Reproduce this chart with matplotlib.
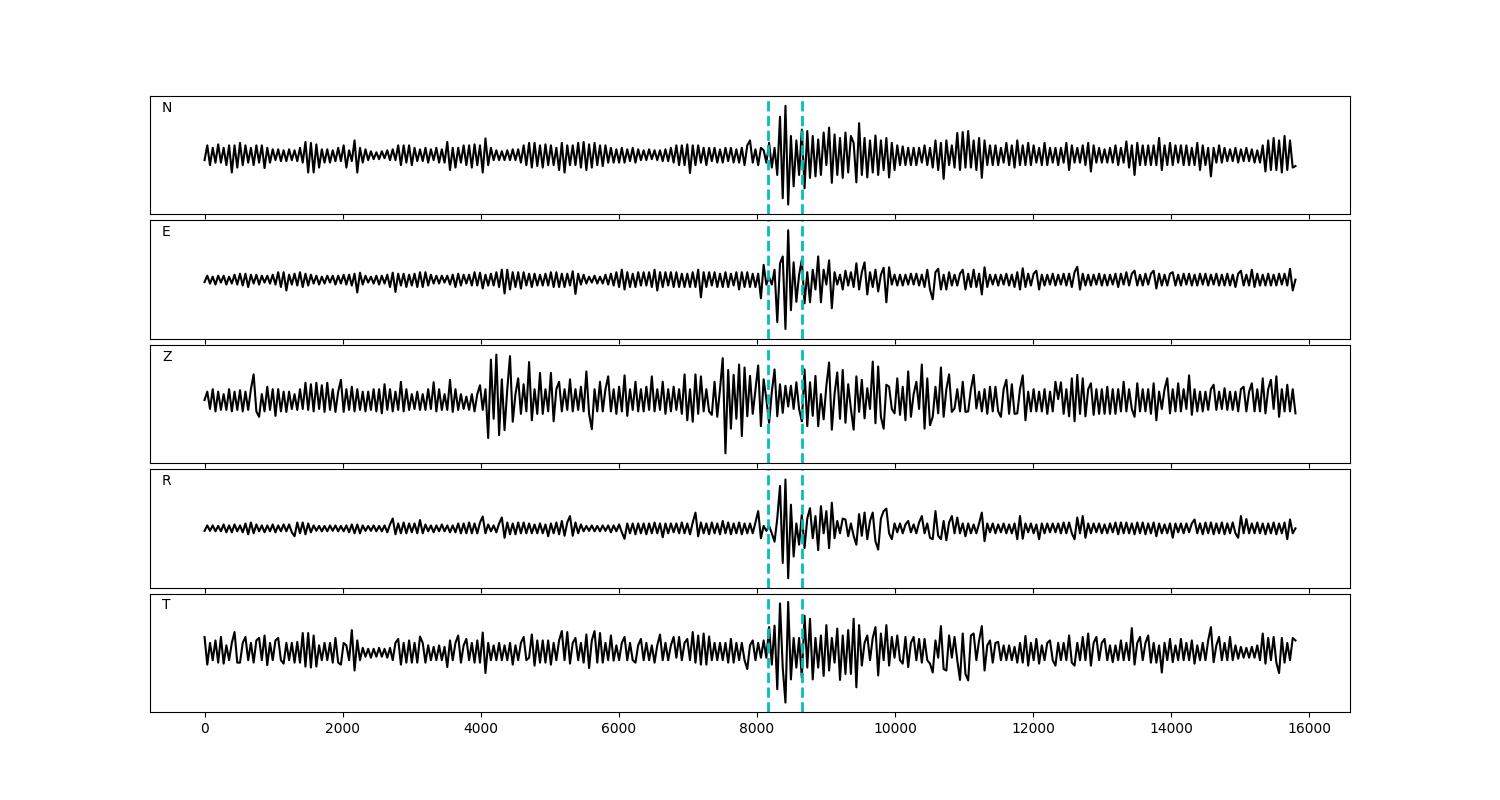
import numpy as np
import matplotlib
matplotlib.use("Agg")
import matplotlib.pyplot as plt

# Time axis end (samples) and picks (dashed cyan lines)
t_end = 15800
p_pick = 8155
s_pick = 8650
labels = ["N", "E", "Z", "R", "T"]

# Normalised amplitudes (in hundredths), evenly spaced from 0 to t_end
n_vals = [
    -10,20,-20,15,-15,22,-15,15,-20,20,-35,20,-25,25,-20,20,-15,15,-20,20,
    -15,20,-26,15,-15,12,-10,12,-12,10,-12,12,-10,10,-12,15,-15,27,-35,25,
    -35,22,-25,12,-15,12,-15,10,-12,15,-12,20,-25,10,-12,30,-35,15,-15,12,
    -10,8,-8,6,-8,8,-6,10,-10,12,-10,20,-20,20,-15,20,-20,15,-12,12,
    -12,15,-15,12,-10,15,-15,12,-15,27,-30,15,-25,15,-15,20,-20,20,-25,22,
    -20,20,-35,34,-20,15,-10,10,-10,8,-10,10,-10,12,-10,12,-15,20,-20,25,
    -25,25,-22,20,-25,22,-20,20,-20,15,-30,25,-35,20,-20,20,-20,25,-25,27,
    -30,22,-25,25,-20,20,-22,20,-15,15,-15,12,-15,15,-15,12,-12,15,-15,12,
    -10,10,-10,12,-8,10,-10,10,-12,12,-12,15,-15,20,-20,20,-20,22,-36,20,
    -20,20,-15,15,-20,15,-12,15,-15,12,-15,15,-12,15,-15,12,-15,15,-20,20,
    30,-15,12,-20,15,10,-15,25,-25,15,-40,78,-87,100,-100,39,-63,30,-40,52,
    -67,49,-46,39,-43,32,-40,46,-20,56,-56,42,-40,35,-46,46,-35,39,25,-55,
    65,-40,35,-45,30,-35,40,-40,30,-30,35,-45,25,-30,20,-20,18,-20,15,-20,
    15,-20,15,-15,20,-20,15,-25,30,-30,25,-48,30,-20,20,-25,45,-30,47,-25,
    49,-25,30,-30,35,-46,30,-20,20,-20,20,-20,15,-15,25,-20,20,-25,30,-20,
    20,-20,25,-20,20,-15,15,-20,25,-20,15,-15,15,-20,15,-15,25,-30,20,-15,
    15,-15,20,-20,25,-33,20,-15,15,-15,12,-15,15,-15,20,-20,15,-15,28,-25,
    20,-40,25,-20,20,-20,20,-20,20,-20,35,-30,20,-20,25,-20,20,-15,20,-20,
    20,-20,15,-20,25,-30,20,-20,15,-43,15,-15,20,-15,15,-12,12,-12,15,-15,
    12,-12,15,-12,12,-15,10,-15,20,-33,30,-30,35,-30,30,-35,39,-30,30,-25,
    -22,
]

e_vals = [
    -5,8,-8,6,-10,8,-6,8,-10,6,-8,10,-10,12,-12,12,-15,10,-8,10,
    -10,8,-6,8,-8,10,-10,15,-15,15,-22,10,-10,12,-12,15,-15,12,-12,10,
    -8,8,-10,6,-8,8,-6,8,-10,8,-8,10,-10,10,-12,12,-26,14,-10,8,
    -6,6,-8,8,-10,8,-8,10,-15,14,-25,12,-12,12,-15,10,-12,12,-15,15,
    -15,15,-12,10,-8,8,-8,8,-6,8,-10,10,-15,12,-12,10,-8,10,-12,15,
    -12,14,-18,10,-12,12,-12,15,-15,20,-28,20,-20,15,-15,15,-18,15,-12,12,
    -15,12,-12,10,-12,12,-12,15,-15,15,-15,12,-15,12,-12,17,-29,12,-10,10,
    -8,6,-6,8,-8,6,-8,10,-10,12,-12,15,-15,20,-20,15,-15,12,-15,15,
    -12,15,-12,15,-15,20,-22,15,-15,15,-12,15,-15,15,-15,12,-15,12,-15,15,
    -15,20,-36,15,-15,15,-12,15,-15,12,-15,15,-15,12,-12,15,-20,15,-15,15,
    -15,12,-15,12,-38,30,-10,5,-10,20,-86,33,47,-100,100,-62,35,-45,10,40,
    -48,15,-46,20,-20,47,-46,20,-10,39,-58,15,-10,10,-20,18,-12,15,-15,33,
    -20,15,35,-30,15,-15,20,-24,10,24,-46,25,-10,10,-12,10,-12,10,-10,12,
    -10,12,-12,10,-15,20,-20,-40,15,22,-20,10,-20,15,-12,10,-12,12,20,-20,
    12,-15,20,-15,12,-30,25,-15,10,-10,10,-12,10,-10,12,-12,10,-15,15,-20,
    23,-15,12,-12,12,18,-20,10,-12,10,-10,12,-12,10,-10,12,-12,12,-15,15,
    26,-20,12,-12,10,-12,10,-10,12,-12,10,-12,10,-10,12,-15,12,-10,15,-12,
    12,18,-12,10,-12,12,-10,12,18,-18,12,-12,10,-12,12,15,-12,10,-12,12,
    -10,12,-12,10,-12,12,-10,12,-12,10,-10,12,-12,10,-12,12,-12,10,-15,12,
    18,-12,10,-12,20,-15,12,-12,10,-12,12,-12,10,-12,12,-10,12,-12,22,-22,
    0,
]

z_vals = [
    8,25,-10,30,-15,25,-12,20,-12,30,-15,25,-12,28,-15,25,-12,30,60,-15,
    -26,20,-15,35,-12,30,-24,30,-15,25,-16,25,-10,20,-12,30,-10,43,-12,40,
    -15,43,-10,38,-16,43,-12,30,-16,25,49,-16,30,-12,35,-15,30,-12,25,-15,
    25,-12,30,-15,30,-19,40,-12,30,-15,25,-12,45,-15,30,-12,20,-10,25,-12,
    20,-12,30,-10,44,-15,30,-12,20,-12,49,-16,30,-12,20,-10,15,-12,20,-15,
    20,38,-12,30,-69,90,-30,100,-63,50,-53,30,97,-36,20,52,-20,40,-15,85,
    -33,30,-20,63,-20,30,-15,63,-35,30,45,-15,30,-12,50,-15,30,-12,35,-15,
    66,-20,-51,30,-15,45,-15,30,56,-15,30,-20,35,-15,58,-24,30,-12,45,-15,
    30,-15,35,-12,56,-15,30,-12,45,-20,30,-15,35,-12,30,-20,60,-33,30,-36,
    60,-20,56,-15,30,-15,-22,45,-26,30,93,-100,69,-50,59,-30,80,-65,74,-25,
    57,-20,30,78,-45,50,10,-38,25,70,-25,40,-18,37,-5,37,-10,44,-10,-35,
    70,-45,44,-24,57,-45,20,-31,37,84,-52,20,64,-30,69,-38,40,-10,-52,56,
    -16,49,-29,32,-10,86,-39,76,-26,-50,39,35,-10,-19,52,-22,35,-33,66,-26,
    20,45,-10,80,-50,52,-43,-26,35,-19,74,-26,30,60,-16,-9,30,-15,45,-16,
    -15,30,59,-9,25,-15,30,-20,35,-15,35,-15,-26,30,49,-20,40,-20,-19,30,
    58,-33,25,-15,30,-15,25,-15,30,-20,25,-15,45,10,44,-20,30,-25,52,-35,
    59,-20,52,-25,30,42,-22,30,-20,30,-20,35,-20,30,-20,30,-15,45,-15,30,
    -10,-26,42,-15,30,-15,30,-20,42,-33,25,-10,30,52,-19,30,-15,42,-15,30,
    -10,58,-22,30,-15,25,-15,25,-12,30,39,-12,25,-10,32,-12,25,-12,25,-15,
    30,35,-15,25,42,-15,30,-15,52,-19,30,49,-10,56,-26,30,-15,39,-15,30,
    -19,
]

r_vals = [
    -5,6,-5,6,-6,5,-6,8,-8,6,-8,8,-6,6,-8,10,-12,12,-10,8,
    -6,6,-8,6,-6,8,-8,6,-6,8,-6,8,-8,-16,12,-10,12,-12,10,-8,
    6,-5,5,-6,5,-6,6,-5,6,-6,5,-6,6,-8,8,-10,8,-10,6,-5,
    5,-5,6,-6,5,-6,6,-8,8,20,-12,10,-10,12,-10,10,-8,10,-10,17,
    -10,8,-6,6,-8,6,-6,8,-6,6,-8,6,-8,10,-10,10,-10,12,-10,10,
    -10,12,24,-10,8,-6,6,-8,10,22,-19,12,-12,10,-12,12,-10,12,-10,10,
    -10,8,-10,10,-10,8,-16,10,-10,12,-12,15,-15,12,25,-15,12,-10,8,-6,
    5,-5,6,-6,5,-6,6,-5,6,-8,6,-6,8,-8,-21,10,-10,10,-12,10,
    -10,10,-12,10,-10,12,-10,10,-18,10,-10,10,-8,10,-10,12,-10,10,-12,12,
    32,-16,12,-10,10,-12,12,-10,10,-12,15,-10,12,-12,10,-10,12,-12,10,-10,
    10,-10,12,35,-20,5,-5,5,-10,-27,20,86,-70,99,-101,48,-57,10,-33,28,
    -40,20,41,-20,25,-44,45,-10,35,-40,52,-20,15,-10,20,18,-16,10,-15,-33,
    29,-15,32,-22,15,32,-26,-43,20,35,40,-10,-22,10,-8,10,-10,8,15,-8,
    8,-10,12,25,-10,10,-19,-22,35,-15,-22,15,-24,12,25,-10,22,-10,10,-16,
    10,-10,8,-10,10,32,-26,10,-8,10,-10,8,-8,10,-10,8,-10,10,-22,25,
    -21,10,-8,10,-10,8,-22,10,-10,10,-8,10,-8,10,-10,12,-10,12,-10,-22,
    22,-10,25,-19,10,-10,10,-8,10,-10,8,-10,10,-8,12,-12,12,-10,12,-10,
    10,-12,12,-10,12,-12,10,-10,12,-16,10,-10,8,-10,10,-19,10,-8,10,-10,
    10,-8,10,18,-10,10,-12,12,-10,12,-12,10,-10,12,-12,10,-10,12,-10,-19,
    25,-10,19,-10,10,-10,12,-10,10,-12,10,-10,12,-12,10,-10,12,-22,18,-10,
    0,
]

t_vals = [
    32,-24,20,-15,25,-20,32,-22,15,-15,20,42,-20,-20,20,32,-15,20,-20,25,
    30,-15,35,-25,20,-15,25,30,-15,-22,20,-15,20,-20,22,-20,40,-28,40,-30,
    35,-28,15,-15,20,-15,20,-20,30,-20,-24,20,15,-15,46,-36,25,-15,10,-8,
    8,-10,8,-8,10,-8,8,-10,10,-15,20,28,-24,20,-20,25,-20,20,-20,33,
    20,-20,15,-15,12,-15,15,-15,12,-29,25,-15,20,35,-20,15,28,-15,20,-20,
    25,-20,41,-41,20,-15,15,-15,20,-15,15,-15,20,-24,15,-15,20,32,-15,-10,
    37,-26,25,-20,25,-20,25,-24,20,-15,25,44,-15,42,-22,20,30,-15,20,-20,
    37,-31,25,44,-20,40,-20,20,-15,35,-16,15,-15,20,32,-15,20,-15,-20,15,
    28,-15,20,-15,15,-20,15,37,-15,20,-15,15,32,-10,32,-15,20,28,-15,42,
    -20,35,-24,39,-24,33,-15,20,-15,20,-15,20,-20,28,-20,20,-15,20,-15,-33,
    15,25,-15,20,-10,25,-10,52,-24,55,-74,100,-30,-101,103,-54,30,-30,30,-50,
    75,-30,69,-54,30,-30,35,-47,56,-36,30,-20,49,-55,35,-43,46,-43,69,-70,
    56,-26,20,35,-15,30,52,-46,39,-15,56,-26,32,-10,35,-15,-22,32,-29,20,
    32,-15,28,-20,28,-15,-22,-40,25,-10,54,-33,-36,35,-10,32,-15,-55,39,-43,
    -56,35,39,-15,25,54,-36,15,25,-20,20,22,-15,15,-15,15,-15,12,-20,20,
    -20,34,-26,20,-15,28,-22,15,-15,20,25,-15,-26,20,-15,20,-15,35,-20,-26,
    20,-15,32,-15,39,-26,20,32,-15,20,28,-15,15,-19,15,-15,25,-15,20,-15,
    50,-24,20,32,-15,20,35,-20,20,-20,15,-40,20,-15,28,-19,15,-15,28,-15,
    20,-15,25,-22,15,-15,20,-15,25,52,-19,15,32,-15,20,-15,32,-15,15,-12,
    12,-10,10,-10,12,-10,15,-15,39,-22,30,-15,32,-20,-41,30,-20,20,-15,30,
    25,
]

traces = [n_vals, e_vals, z_vals, r_vals, t_vals]

fig, axes = plt.subplots(5, 1, figsize=(15, 8), sharex=True)
fig.subplots_adjust(left=0.1, right=0.9, top=0.88, bottom=0.11, hspace=0.05)
for ax, lab, vals in zip(axes, labels, traces):
    y = np.asarray(vals, dtype=float) / 100.0
    x = np.linspace(0, t_end, len(y))
    ax.plot(x, y, color="k", lw=1.5)
    ax.axvline(p_pick, color="c", ls="--", lw=2)
    ax.axvline(s_pick, color="c", ls="--", lw=2)
    ax.set_ylim(-1.2, 1.2)
    ax.set_yticks([])
    ax.text(0.01, 0.9, lab, transform=ax.transAxes, va="center", ha="left", fontsize=10)

fig.savefig("out.png", dpi=100)
